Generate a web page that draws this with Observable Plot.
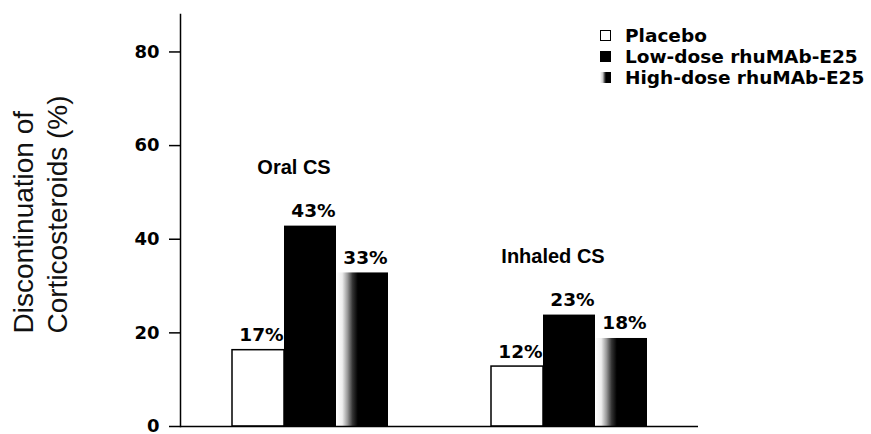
<!DOCTYPE html>
<html>
<head>
<meta charset="utf-8">
<script src="https://cdn.jsdelivr.net/npm/d3@7"></script>
<script src="https://cdn.jsdelivr.net/npm/@observablehq/plot@0.6"></script>
<style>
  body { margin: 0; background: white; }
  #wrap { position: relative; width: 871px; height: 434px; overflow: hidden; }
  #legend { position: absolute; left: 600px; top: 25px; font-family: "DejaVu Sans", sans-serif; font-weight: bold; font-size: 18.5px; color: #000; }
  #legend .row { display: flex; align-items: center; height: 21px; line-height: 21px; white-space: nowrap; }
  #legend .sw { width: 11px; height: 11px; margin-right: 14px; box-sizing: border-box; flex: none; }
</style>
</head>
<body>
<svg width="0" height="0" style="position:absolute">
  <defs>
    <linearGradient id="hd" x1="0" x2="1" y1="0" y2="0">
      <stop offset="0" stop-color="#ffffff"/>
      <stop offset="0.12" stop-color="#eeeeee"/>
      <stop offset="0.22" stop-color="#9a9a9a"/>
      <stop offset="0.32" stop-color="#333333"/>
      <stop offset="0.42" stop-color="#000000"/>
      <stop offset="1" stop-color="#000000"/>
    </linearGradient>
  </defs>
</svg>
<div id="wrap">
  <div id="chart"></div>
  <div id="legend"></div>
</div>
<script>
const groups = ["Oral CS", "Inhaled CS"];
const treatments = ["Placebo", "Low-dose rhuMAb-E25", "High-dose rhuMAb-E25"];
const oralValues = [16.3, 42.8, 32.8];
const inhaledValues = [12.8, 23.8, 18.8];
const oralLabels = ["17%", "43%", "33%"];
const inhaledLabels = ["12%", "23%", "18%"];
const yTicks = [0, 20, 40, 60, 80];
const yTitle = "Discontinuation of\nCorticosteroids (%)";
const fills = ["white", "black", "url(#hd)"];

const valuesByGroup = [oralValues, inhaledValues];
const labelsByGroup = [oralLabels, inhaledLabels];
const rows = [];
groups.forEach((g, gi) => treatments.forEach((t, ti) => rows.push({
  group: g, treatment: t, value: valuesByGroup[gi][ti], label: labelsByGroup[gi][ti]
})));
const groupTops = groups.map((g, gi) => ({group: g, top: d3.max(valuesByGroup[gi])}));

const chart = Plot.plot({
  width: 871,
  height: 434,
  marginLeft: 179,
  marginRight: 173,
  marginTop: 14,
  marginBottom: 8,
  style: {background: "white", color: "black", fontFamily: "DejaVu Sans"},
  fx: {domain: groups, paddingInner: 0, paddingOuter: 0, axis: null, label: null},
  x: {domain: treatments, paddingInner: 0, paddingOuter: 0.955, axis: null, label: null},
  y: {domain: [0, 88], label: null},
  color: {domain: treatments, range: fills},
  marks: [
    Plot.barY(rows, {fx: "group", x: "treatment", y: "value", fill: "treatment"}),
    Plot.barY(rows.filter(d => d.treatment === treatments[0]), {fx: "group", x: "treatment", y: "value", fill: "none", stroke: "black", strokeWidth: 1.5}),
    Plot.ruleY([0], {strokeWidth: 1.5}),
    Plot.frame({anchor: "left", facetAnchor: "left", strokeWidth: 1.5}),
    Plot.axisY({ticks: yTicks, tickSize: 11, tickPadding: 10, fontSize: 18, fontWeight: "bold", fontFamily: "DejaVu Sans", strokeWidth: 1.5, label: null}),
    Plot.text(rows, {fx: "group", x: "treatment", y: "value", text: "label", lineAnchor: "bottom", dy: -9, dx: 3, fontSize: 18.5, fontWeight: "bold", fontFamily: "DejaVu Sans", fill: "black"}),
    Plot.text(groupTops, {fx: "group", y: "top", text: "group", lineAnchor: "bottom", dy: -52, dx: -16, fontSize: 20, fontWeight: "bold", fontFamily: "Liberation Sans", fill: "black"}),
    Plot.text([yTitle], {text: d => d, frameAnchor: "bottom-left", facetAnchor: "left", rotate: -90, textAnchor: "start", lineAnchor: "middle", lineHeight: 1.2, fontSize: 28, fontFamily: "Liberation Sans", dx: -141, dy: -93, fill: "#111"})
  ]
});
document.getElementById("chart").appendChild(chart);

const legend = document.getElementById("legend");
const swatchStyles = [
  "background:white;border:1.5px solid black;",
  "background:black;",
  "background:linear-gradient(to right,#ffffff 0%,#cccccc 25%,#333333 45%,#000000 55%,#000000 100%);"
];
treatments.forEach((t, i) => {
  const row = document.createElement("div");
  row.className = "row";
  const sw = document.createElement("span");
  sw.className = "sw";
  sw.style.cssText = swatchStyles[i];
  const lab = document.createElement("span");
  lab.textContent = t;
  row.appendChild(sw);
  row.appendChild(lab);
  legend.appendChild(row);
});
</script>
</body>
</html>
